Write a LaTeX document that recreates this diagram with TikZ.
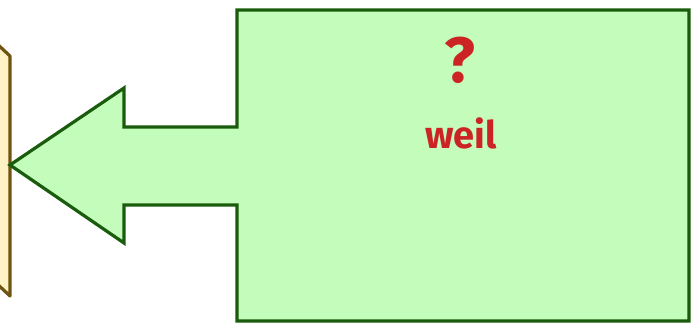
\documentclass[tikz,border=0pt]{standalone}
\usepackage{fontspec}
\setmainfont{Fira Sans}
\definecolor{boxfill}{HTML}{C4FCBC}
\definecolor{boxline}{HTML}{185C0C}
\definecolor{boardfill}{HTML}{FFF2C4}
\definecolor{boardline}{HTML}{6E5410}
\definecolor{markred}{HTML}{CC2424}
\tikzset{
  board/.style={draw=boardline, fill=boardfill, line width=3.2pt, line join=round},
  bigarrow/.style={draw=boxline, fill=boxfill, line width=3.2pt, line join=miter},
  redtext/.style={text=markred, font=\bfseries, inner sep=0pt},
}
\begin{document}
\begin{tikzpicture}[x=1pt, y=-1pt]
    \useasboundingbox (0,0) rectangle (691,324);
    \clip (0,0) rectangle (691,324);
    % board on the left
    \draw[board] (-6,41) -- (10,56) -- (10,296) -- (-6,281) -- cycle;
    % box with the arrow
    \draw[bigarrow] (689,10) -- (237,10) -- (237,127) -- (124,127) -- (124,88) -- (10,165)
      -- (124,243) -- (124,205) -- (237,205) -- (237,321) -- (689,321) -- cycle;
    \node[redtext, font=\bfseries\fontsize{64}{66}\selectfont] (mark) at (460,60) {?};
    \node[redtext, font=\bfseries\fontsize{38}{40}\selectfont] (weil) at (461,133) {weil};
  \end{tikzpicture}
\end{document}
